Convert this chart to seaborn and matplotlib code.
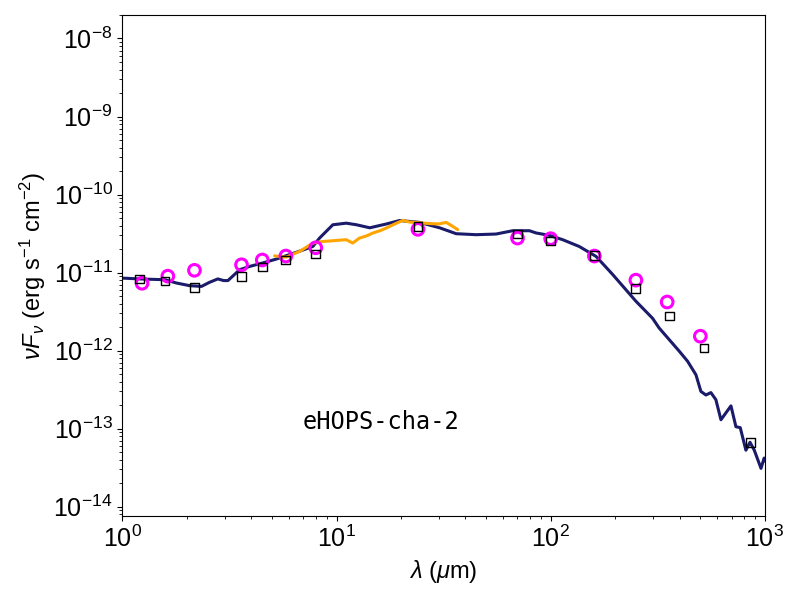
import numpy as np
import pandas as pd
import seaborn as sns
import matplotlib
matplotlib.use("Agg")
import matplotlib.pyplot as plt

# model SED
model_wav = [1.0, 1.195, 1.58, 1.79, 2.06, 2.34, 2.55, 2.79, 2.97, 3.11, 3.53, 3.93,
             4.53, 5.23, 6.49, 7.75, 8.33, 9.61, 11.1, 12.4, 14.3, 17.1, 19.7, 24.4,
             30.3, 36.2, 44.9, 55.6, 66.5, 79.6, 85.5, 98.6, 113.8, 136, 163, 194.5,
             225, 250, 299, 321, 399, 436, 477, 503, 531, 560, 591, 624, 695, 733,
             768, 816, 853, 893, 960, 993, 1010]
model_flux = [8.5e-12, 8.3e-12, 8.1e-12, 7.35e-12, 6.8e-12, 6.65e-12, 7.5e-12, 8.3e-12,
              7.9e-12, 7.9e-12, 1.09e-11, 1.2e-11, 1.33e-11, 1.49e-11, 1.82e-11,
              2.16e-11, 2.77e-11, 4.1e-11, 4.3e-11, 4.1e-11, 3.75e-11, 4.2e-11,
              4.65e-11, 4.4e-11, 3.75e-11, 3.15e-11, 3.06e-11, 3.12e-11, 3.44e-11,
              3.44e-11, 3.22e-11, 3.0e-11, 2.64e-11, 2.16e-11, 1.61e-11, 9.5e-12,
              6.0e-12, 4.3e-12, 2.6e-12, 1.95e-12, 9.8e-13, 7.3e-13, 4.9e-13, 3.0e-13,
              2.7e-13, 2.9e-13, 2.35e-13, 1.3e-13, 1.96e-13, 1.06e-13, 1.03e-13,
              5.3e-14, 6.7e-14, 5.3e-14, 3.1e-14, 4.2e-14, 3.8e-14]

# IRS spectrum
irs_wav = [5.14, 5.5, 5.83, 6.2, 6.72, 7.2, 7.75, 8.6, 9.61, 10.3, 11.1, 11.9, 12.8,
           13.8, 14.8, 16.0, 17.1, 18.7, 20.4, 21.8, 23.5, 25.5, 28.1, 30.0, 32.5,
           34.9, 36.8]
irs_flux = [1.64e-11, 1.6e-11, 1.58e-11, 1.7e-11, 1.87e-11, 2.1e-11, 2.39e-11,
            2.5e-11, 2.56e-11, 2.6e-11, 2.64e-11, 2.39e-11, 2.77e-11, 2.95e-11,
            3.22e-11, 3.45e-11, 3.73e-11, 4.2e-11, 4.67e-11, 4.45e-11, 4.4e-11,
            4.3e-11, 4.23e-11, 4.2e-11, 4.4e-11, 3.91e-11, 3.55e-11]

# observed photometry
obs_wav = [1.235, 1.63, 2.17, 3.6, 4.5, 5.8, 8.0, 24, 70, 100, 160, 250, 350, 500]
obs_flux = [7.3e-12, 9.0e-12, 1.07e-11, 1.26e-11, 1.45e-11, 1.63e-11, 2.08e-11,
            3.58e-11, 2.77e-11, 2.72e-11, 1.63e-11, 8.0e-12, 4.2e-12, 1.53e-12]

# model convolved photometry
mod_wav = [1.2, 1.58, 2.18, 3.6, 4.5, 5.8, 8.0, 24, 70, 100, 160, 250, 360, 520, 860]
mod_flux = [8.3e-12, 7.8e-12, 6.5e-12, 8.9e-12, 1.18e-11, 1.45e-11, 1.73e-11,
            3.87e-11, 3.12e-11, 2.54e-11, 1.64e-11, 6.3e-12, 2.77e-12, 1.08e-12,
            6.7e-14]

source_name = "eHOPS-cha-2"

sns.set_style("ticks")
plt.rcParams['font.family'] = ['Liberation Sans', 'DejaVu Sans']
plt.rcParams['mathtext.fontset'] = 'custom'
plt.rcParams['mathtext.rm'] = 'Liberation Sans'
plt.rcParams['mathtext.it'] = 'Liberation Sans:italic'
plt.rcParams['mathtext.bf'] = 'Liberation Sans:bold'
plt.rcParams['axes.edgecolor'] = 'black'
plt.rcParams['axes.labelcolor'] = 'black'
plt.rcParams['text.color'] = 'black'
plt.rcParams['xtick.color'] = 'black'
plt.rcParams['ytick.color'] = 'black'

fig, ax = plt.subplots(figsize=(8, 6), dpi=100)
fig.subplots_adjust(left=0.153, right=0.956, top=0.975, bottom=0.14)
ax.set_xscale('log')
ax.set_yscale('log')

sns.lineplot(x=model_wav, y=model_flux, color='#1b1b6b', linewidth=2.2, ax=ax,
             sort=False, zorder=2)
sns.lineplot(x=irs_wav, y=irs_flux, color='orange', linewidth=2.2, ax=ax,
             sort=False, zorder=3)
sns.scatterplot(x=obs_wav, y=obs_flux, marker='o', s=70, facecolor='none',
                edgecolor='magenta', linewidth=2.2, ax=ax, zorder=4)
sns.scatterplot(x=mod_wav, y=mod_flux, marker='s', s=40, facecolor='none',
                edgecolor='black', linewidth=1.0, ax=ax, zorder=5)

ax.set_xlim(1, 1000)
ax.set_ylim(7.6e-15, 2.0e-8)
ax.set_xlabel(r'$\lambda$ ($\mu$m)', fontsize=17)
ax.set_ylabel(r'$\nu F_\nu$ (erg s$^{-1}$ cm$^{-2}$)', fontsize=17)
ax.tick_params(axis='both', which='major', labelsize=18)
ax.text(0.281, 0.188, source_name, transform=ax.transAxes, fontsize=17,
        family='DejaVu Sans Mono', va='center', ha='left')

plt.savefig('out.png', dpi=100)
